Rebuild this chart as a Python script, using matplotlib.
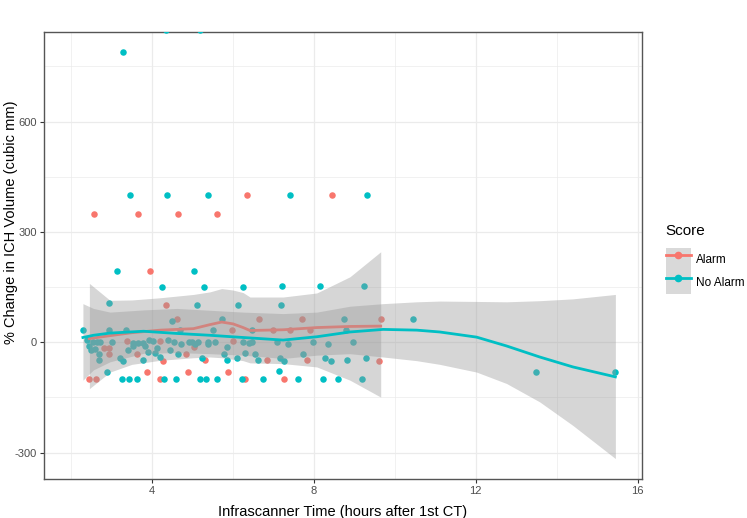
import matplotlib
matplotlib.use('Agg')
import matplotlib.pyplot as plt
from matplotlib.lines import Line2D
from matplotlib.patches import Patch

plt.rcParams['font.family'] = ['Liberation Sans', 'DejaVu Sans']
plt.rcParams['axes.unicode_minus'] = False

RED = '#F8766D'
TEAL = '#00BFC4'

# Точки группы Alarm
alarm_x = [6.35, 8.44, 2.57, 3.64, 4.63, 5.60, 3.96, 4.35, 4.61, 6.64, 7.70, 9.65,
           5.97, 7.00, 7.41, 7.90, 3.38, 4.20, 6.00, 5.04, 2.80, 2.94, 2.94, 3.62,
           4.83, 4.26, 5.31, 6.83, 7.84, 9.60, 3.87, 4.88, 5.88, 2.45, 2.62, 4.20,
           6.30, 7.26]
alarm_y = [400, 400, 350, 350, 350, 350, 195, 100, 62, 62, 62, 62,
           33, 33, 34, 33, 4, 3, 3, -13, -15, -15, -31, -33,
           -33, -51, -49, -49, -49, -51, -81, -81, -81, -100, -100, -100,
           -100, -100]

# Точки группы No Alarm
noalarm_x = [4.34, 5.19, 3.28, 3.45, 4.37, 5.37, 7.41, 9.31, 3.14, 5.04,
             4.24, 5.28, 6.24, 7.22, 8.16, 9.23, 2.94, 5.10, 6.12, 7.18,
             5.72, 8.74, 10.44, 4.49, 2.28, 2.94, 3.35, 4.69, 5.50, 6.46, 8.80,
             2.40, 2.53, 2.63, 2.72, 3.02, 3.52, 3.65, 3.77, 3.93, 4.03, 4.40,
             4.53, 4.72, 4.90, 4.98, 5.14, 5.06, 5.38, 5.39, 5.56, 6.25, 6.39,
             6.48, 7.08, 7.37, 7.98, 8.35, 8.97,
             2.43, 3.54, 3.83, 5.84, 2.49, 2.59, 3.41, 4.13, 4.44,
             2.69, 3.91, 4.06, 4.65, 5.77, 6.30, 6.54, 7.74,
             2.69, 3.21, 3.29, 3.77, 4.20, 5.23, 5.84, 6.09, 6.62, 7.16, 7.26,
             8.27, 8.42, 8.82, 9.28,
             2.88, 7.14, 13.50, 15.45,
             3.26, 3.44, 3.62, 4.30, 4.58, 5.19, 5.32, 5.60, 6.23, 6.75, 7.61,
             8.23, 8.59, 9.19]
noalarm_y = [850, 850, 788, 400, 400, 400, 400, 400, 195, 195,
             150, 150, 150, 152, 152, 152, 108, 100, 100, 100,
             62, 62, 62, 58, 34, 33, 34, 33, 33, 34, 33,
             5, 0, 0, 0, 1, -2, -2, -2, 5, 3, 5,
             0, -5, 0, 0, 0, -5, 2, -6, 1, 0, -3,
             2, 1, -6, 1, -6, 1,
             -11, -11, -11, -13, -20, -17, -20, -15, -20,
             -33, -26, -29, -33, -33, -29, -33, -33,
             -49, -43, -51, -49, -40, -42, -49, -42, -49, -42, -51,
             -42, -51, -49, -42,
             -81, -79, -80, -80,
             -100, -100, -100, -100, -100, -100, -100, -100, -100, -100, -100,
             -100, -100, -100]

# Сглаженные кривые (loess) и доверительные интервалы
alarm_sx = [2.45, 2.96, 3.50, 4.20, 5.02, 5.43, 5.72, 6.00, 6.25, 6.42, 7.24, 8.07, 8.89, 9.65]
alarm_sy = [10, 18, 26, 33, 37, 48, 55, 50, 40, 32, 34, 40, 43, 44]
alarm_hi = [160, 114, 115, 121, 130, 137, 146, 142, 135, 123, 123, 134, 178, 246]
alarm_lo = [-126, -81, -60, -49, -42, -40, -42, -46, -50, -56, -58, -67, -103, -149]

noalarm_sx = [2.29, 2.55, 2.96, 3.79, 4.61, 5.43, 6.25, 7.24, 8.07, 8.89, 9.71,
              10.54, 11.11, 12.02, 12.76, 13.58, 14.40, 15.45]
noalarm_sy = [13, 19, 25, 30, 24, 19, 13, 6, 15, 28, 35, 33, 28, 14, -10, -40, -67, -94]
noalarm_hi = [105, 92, 82, 88, 92, 87, 82, 78, 82, 98, 105, 110, 112, 111, 110, 113, 118, 130]
noalarm_lo = [-103, -75, -53, -30, -28, -31, -35, -44, -35, -31, -40, -50, -60, -81, -112,
              -162, -226, -316]

fig = plt.figure(figsize=(7.47, 5.18), dpi=100)
ax = fig.add_axes([0.059, 0.075, 0.8, 0.863])

ax.scatter(alarm_x, alarm_y, s=22, color=RED, lw=0, zorder=3)
ax.scatter(noalarm_x, noalarm_y, s=22, color=TEAL, lw=0, zorder=3)

ax.fill_between(alarm_sx, alarm_lo, alarm_hi, color='#999999', alpha=0.4, lw=0, zorder=4)
ax.plot(alarm_sx, alarm_sy, color=RED, lw=2, zorder=4)
ax.fill_between(noalarm_sx, noalarm_lo, noalarm_hi, color='#999999', alpha=0.4, lw=0, zorder=5)
ax.plot(noalarm_sx, noalarm_sy, color=TEAL, lw=2, zorder=5)

ax.set_xlim(1.33, 16.1)
ax.set_ylim(-372, 843)
ax.set_xticks([4, 8, 12, 16])
ax.set_xticks([2, 6, 10, 14], minor=True)
ax.set_yticks([-300, 0, 300, 600])
ax.set_yticks([-150, 150, 450, 750], minor=True)
ax.grid(True, which='major', color='#EBEBEB', lw=0.9, zorder=0)
ax.grid(True, which='minor', color='#EBEBEB', lw=0.5, zorder=0)
ax.set_axisbelow(True)
ax.tick_params(which='major', length=3, color='#333333', labelsize=8, labelcolor='#4D4D4D', pad=2)
ax.tick_params(which='minor', length=0)
for s in ax.spines.values():
    s.set_color('#555555')
    s.set_linewidth(1)

ax.set_xlabel('Infrascanner Time (hours after 1st CT)', fontsize=10.5)
ax.xaxis.set_label_coords(0.5, -0.058)
ax.set_ylabel('% Change in ICH Volume (cubic mm)', fontsize=10.5)
ax.yaxis.set_label_coords(-0.044, 0.575)

handles = [(Patch(color='#D9D9D9', lw=0), Line2D([], [], color=RED, lw=2, marker='o', ms=4.5)),
           (Patch(color='#D9D9D9', lw=0), Line2D([], [], color=TEAL, lw=2, marker='o', ms=4.5))]
leg = fig.legend(handles, ['Alarm', 'No Alarm'], title='Score', loc='upper left',
                 bbox_to_anchor=(0.877, 0.588), frameon=False, fontsize=8.5,
                 title_fontsize=11, handlelength=2.1, handleheight=2.63,
                 labelspacing=0.0, handletextpad=0.5)
leg._legend_box.align = 'left'
leg._legend_box.sep = 7

plt.savefig('out.png', dpi=100)
